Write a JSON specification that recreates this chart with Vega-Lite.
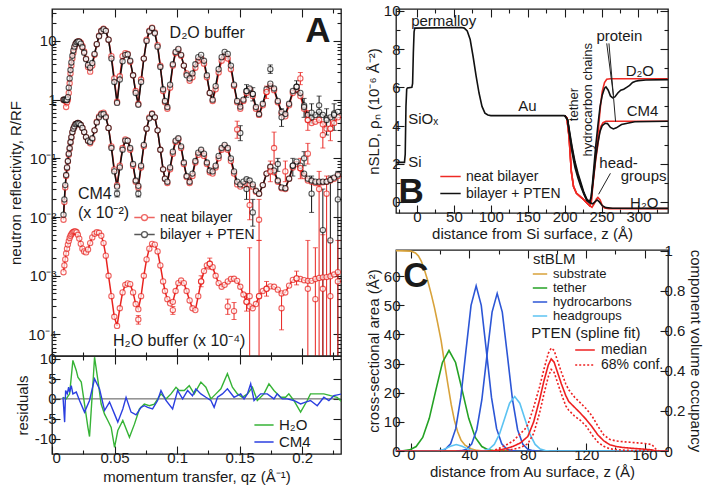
{
"$schema": "https://vega.github.io/schema/vega-lite/v6.json",
"padding": {"left": 8, "top": 3, "right": 0, "bottom": 0},
"config": {
 "font": "Liberation Sans",
 "view": {"stroke": "#1a1a1a", "strokeWidth": 1.3},
 "axis": {"domain": false, "grid": false, "labelFont": "Liberation Sans", "titleFont": "Liberation Sans", "labelFontSize": 15, "titleFontSize": 15, "titleFontWeight": "normal", "labelColor": "#1a1a1a", "titleColor": "#1a1a1a", "tickColor": "#1a1a1a", "tickWidth": 1.1, "labelPadding": 4},
 "legend": {"labelFont": "Liberation Sans", "titleFont": "Liberation Sans", "labelFontSize": 14, "titleFontSize": 15, "titleFontWeight": "normal", "labelColor": "#1a1a1a", "titleColor": "#1a1a1a", "padding": 0, "rowPadding": 0, "symbolStrokeWidth": 1.5, "labelOffset": 6},
 "text": {"font": "Liberation Sans", "color": "#1a1a1a"}
},
"datasets": {
 "nr": [
 {"q":0.0092,"dp":1.0,"dn":1.0,"cp":0.011,"cn":0.009,"h":0.00115},
 {"q":0.0099,"dp":1.0,"dn":0.98,"cp":0.02,"cn":0.018,"h":0.0015},
 {"q":0.0106,"dp":1.0,"dn":0.95,"cp":0.035,"cn":0.032,"h":0.0019},
 {"q":0.0113,"dp":0.98,"dn":0.75,"cp":0.052,"cn":0.05,"h":0.0024},
 {"q":0.012,"dp":1.0,"dn":0.9,"cp":0.07,"cn":0.068,"h":0.0029},
 {"q":0.0127,"dp":1.1,"dn":1.0,"cp":0.09,"cn":0.088,"h":0.0034},
 {"q":0.0134,"dp":1.6,"dn":1.3,"cp":0.12,"cn":0.115,"h":0.0039},
 {"q":0.0141,"dp":2.3,"dn":1.9,"cp":0.15,"cn":0.145,"h":0.0044},
 {"q":0.0148,"dp":3.2,"dn":2.8,"cp":0.19,"cn":0.185,"h":0.0048},
 {"q":0.0155,"dp":4.3,"dn":3.8,"cp":0.23,"cn":0.225,"h":0.0051},
 {"q":0.0163,"dp":5.6,"dn":5.0,"cp":0.28,"cn":0.275,"h":0.0054},
 {"q":0.0171,"dp":6.9,"dn":6.3,"cp":0.32,"cn":0.32,"h":0.0056},
 {"q":0.0179,"dp":8.0,"dn":7.6,"cp":0.35,"cn":0.35,"h":0.0057},
 {"q":0.0188,"dp":8.9,"dn":8.7,"cp":0.38,"cn":0.38,"h":0.0057},
 {"q":0.0197,"dp":9.5,"dn":9.4,"cp":0.39,"cn":0.39,"h":0.0055},
 {"q":0.0207,"dp":9.8,"dn":9.8,"cp":0.4,"cn":0.4,"h":0.005},
 {"q":0.0218,"dp":9.7,"dn":9.8,"cp":0.39,"cn":0.39,"h":0.0043},
 {"q":0.023,"dp":9.0,"dn":9.3,"cp":0.37,"cn":0.37,"h":0.0035},
 {"q":0.0243,"dp":7.8,"dn":8.2,"cp":0.33,"cn":0.33,"h":0.0029},
 {"q":0.0257,"dp":6.3,"dn":6.6,"cp":0.28,"cn":0.28,"h":0.0026},
 {"q":0.0272,"dp":4.9,"dn":5.0,"cp":0.23,"cn":0.23,"h":0.0025},
 {"q":0.0288,"dp":3.9,"dn":3.6,"cp":0.2,"cn":0.2,"h":0.0028},
 {"q":0.0305,"dp":3.5,"dn":3.0,"cp":0.19,"cn":0.18,"h":0.0036},
 {"q":0.0322,"dp":4.2,"dn":3.8,"cp":0.22,"cn":0.21,"h":0.0045},
 {"q":0.034,"dp":6.0,"dn":5.8,"cp":0.3,"cn":0.3,"h":0.0052},
 {"q":0.0358,"dp":8.8,"dn":8.8,"cp":0.41,"cn":0.42,"h":0.0055},
 {"q":0.0376,"dp":12.0,"dn":12.3,"cp":0.5,"cn":0.52,"h":0.0054},
 {"q":0.0394,"dp":14.6,"dn":15.0,"cp":0.56,"cn":0.58,"h":0.0048},
 {"q":0.0412,"dp":15.8,"dn":16.2,"cp":0.57,"cn":0.6,"h":0.0036},
 {"q":0.043,"dp":14.8,"dn":15.0,"cp":0.5,"cn":0.52,"h":0.0022},
 {"q":0.0452,"dp":10.5,"dn":10.5,"cp":0.33,"cn":0.33,"h":0.001},
 {"q":0.0475,"dp":5.0,"dn":5.5,"cp":0.15,"cn":0.16,"h":0.00045},
 {"q":0.0498,"dp":2.0,"dn":2.3,"cp":0.06,"cn":0.065,"h":0.0002},
 {"q":0.052,"dp":0.88,"dn":0.92,"cp":0.033,"cn":0.035,"h":0.00014},
 {"q":0.0542,"dp":2.2,"dn":2.5,"cp":0.07,"cn":0.075,"h":0.00028},
 {"q":0.0564,"dp":4.5,"dn":5.5,"cp":0.14,"cn":0.15,"h":0.00052},
 {"q":0.0586,"dp":5.8,"dn":6.2,"cp":0.2,"cn":0.21,"h":0.0007},
 {"q":0.0605,"dp":5.9,"dn":6.0,"cp":0.2,"cn":0.2,"h":0.00074},
 {"q":0.0625,"dp":4.6,"dn":4.4,"cp":0.15,"cn":0.14,"h":0.00072},
 {"q":0.0648,"dp":2.6,"dn":2.6,"cp":0.08,"cn":0.075,"h":0.00052},
 {"q":0.0669,"dp":1.3,"dn":1.4,"cp":0.042,"cn":0.04,"h":0.00033},
 {"q":0.069,"dp":0.82,"dn":0.85,"cp":0.034,"cn":0.032,"h":0.00027},
 {"q":0.0712,"dp":2.0,"dn":2.2,"cp":0.075,"cn":0.07,"h":0.00045},
 {"q":0.0734,"dp":5.0,"dn":5.0,"cp":0.17,"cn":0.16,"h":0.001},
 {"q":0.0756,"dp":10.0,"dn":10.5,"cp":0.32,"cn":0.32,"h":0.0019},
 {"q":0.0778,"dp":14.5,"dn":15.0,"cp":0.48,"cn":0.5,"h":0.0029},
 {"q":0.08,"dp":16.5,"dn":16.8,"cp":0.57,"cn":0.58,"h":0.0035},
 {"q":0.0822,"dp":13.5,"dn":14.0,"cp":0.5,"cn":0.5,"h":0.0034},
 {"q":0.0844,"dp":8.0,"dn":8.5,"cp":0.3,"cn":0.3,"h":0.0026},
 {"q":0.0866,"dp":3.6,"dn":3.8,"cp":0.14,"cn":0.14,"h":0.0015},
 {"q":0.0888,"dp":1.5,"dn":1.4,"cp":0.065,"cn":0.065,"h":0.0008},
 {"q":0.0903,"dp":0.95,"dn":0.9,"cp":0.045,"cn":0.045,"h":0.00055},
 {"q":0.0922,"dp":0.75,"dn":0.7,"cp":0.04,"cn":0.038,"h":0.0004},
 {"q":0.0944,"dp":1.8,"dn":1.6,"cp":0.07,"cn":0.065,"h":0.00034},
 {"q":0.0966,"dp":4.0,"dn":3.8,"cp":0.13,"cn":0.12,"h":0.00036},
 {"q":0.0988,"dp":6.5,"dn":6.2,"cp":0.2,"cn":0.19,"h":0.00055},
 {"q":0.101,"dp":7.3,"dn":7.0,"cp":0.22,"cn":0.21,"h":0.00075},
 {"q":0.1032,"dp":5.8,"dn":5.6,"cp":0.16,"cn":0.15,"h":0.00083},
 {"q":0.1054,"dp":3.8,"dn":3.8,"cp":0.085,"cn":0.08,"h":0.00075},
 {"q":0.1076,"dp":2.6,"dn":2.8,"cp":0.05,"cn":0.048,"h":0.00055},
 {"q":0.11,"dp":2.3,"dn":2.1,"cp":0.04,"cn":0.038,"h":0.00038},
 {"q":0.1123,"dp":2.8,"dn":2.4,"cp":0.055,"cn":0.05,"h":0.00028},
 {"q":0.1146,"dp":4.0,"dn":3.5,"cp":0.09,"cn":0.085,"h":0.00026},
 {"q":0.1169,"dp":5.3,"dn":4.6,"cp":0.125,"cn":0.115,"h":0.00045},
 {"q":0.1192,"dp":5.8,"dn":5.0,"cp":0.14,"cn":0.13,"h":0.0008},
 {"q":0.1215,"dp":4.6,"dn":4.1,"cp":0.12,"cn":0.11,"h":0.0012},
 {"q":0.1238,"dp":2.6,"dn":2.4,"cp":0.085,"cn":0.08,"h":0.0015},
 {"q":0.1261,"dp":1.3,"dn":1.3,"cp":0.062,"cn":0.058,"h":0.0016},
 {"q":0.1284,"dp":1.0,"dn":0.95,"cp":0.06,"cn":0.055,"h":0.0014},
 {"q":0.1308,"dp":1.7,"dn":1.5,"cp":0.075,"cn":0.07,"h":0.001},
 {"q":0.1332,"dp":3.3,"dn":2.9,"cp":0.11,"cn":0.1,"h":0.00075},
 {"q":0.1356,"dp":5.3,"dn":4.6,"cp":0.15,"cn":0.14,"h":0.00065},
 {"q":0.138,"dp":6.5,"dn":5.5,"cp":0.17,"cn":0.16,"h":0.0007},
 {"q":0.1405,"dp":6.0,"dn":5.0,"cp":0.15,"cn":0.14,"h":0.0008},
 {"q":0.143,"dp":3.8,"dn":3.3,"cp":0.1,"cn":0.09,"h":0.00088},
 {"q":0.1455,"dp":1.8,"dn":1.7,"cp":0.06,"cn":0.055,"h":0.00089},
 {"q":0.148,"dp":0.95,"dn":0.9,"cp":0.04,"cn":0.036,"h":0.00082},
 {"q":0.1505,"dp":0.76,"dn":0.7,"cp":0.036,"cn":0.033,"h":0.00065},
 {"q":0.153,"dp":1.0,"dn":0.95,"cp":0.04,"cn":0.035,"h":0.00048},
 {"q":0.1555,"dp":1.4,"dn":1.3,"cp":0.044,"cn":0.037,"h":0.00036},
 {"q":0.158,"dp":1.55,"dn":1.45,"cp":0.042,"cn":0.036,"h":0.0003},
 {"q":0.1605,"dp":1.25,"dn":1.15,"cp":0.036,"cn":0.033,"h":0.00028},
 {"q":0.163,"dp":0.75,"dn":0.7,"cp":0.028,"cn":0.027,"h":0.00033},
 {"q":0.1655,"dp":0.57,"dn":0.55,"cp":0.025,"cn":0.025,"h":0.00045},
 {"q":0.1685,"dp":0.85,"dn":0.8,"cp":0.035,"cn":0.035,"h":0.00055},
 {"q":0.1715,"dp":1.5,"dn":1.35,"cp":0.055,"cn":0.055,"h":0.0006},
 {"q":0.1745,"dp":1.87,"dn":1.7,"cp":0.072,"cn":0.07,"h":0.00066},
 {"q":0.1775,"dp":1.55,"dn":1.45,"cp":0.062,"cn":0.058,"h":0.00065},
 {"q":0.1805,"dp":0.95,"dn":0.9,"cp":0.042,"cn":0.04,"h":0.00058},
 {"q":0.1835,"dp":0.62,"dn":0.58,"cp":0.032,"cn":0.031,"h":0.0005},
 {"q":0.1865,"dp":0.57,"dn":0.52,"cp":0.031,"cn":0.03,"h":0.00052},
 {"q":0.1895,"dp":0.85,"dn":0.8,"cp":0.045,"cn":0.045,"h":0.00068},
 {"q":0.1925,"dp":1.4,"dn":1.3,"cp":0.075,"cn":0.07,"h":0.00085},
 {"q":0.1955,"dp":1.66,"dn":1.5,"cp":0.088,"cn":0.08,"h":0.0009},
 {"q":0.1985,"dp":1.3,"dn":1.15,"cp":0.075,"cn":0.068,"h":0.00088},
 {"q":0.2015,"dp":0.8,"dn":0.7,"cp":0.055,"cn":0.05,"h":0.00084},
 {"q":0.2045,"dp":0.55,"dn":0.45,"cp":0.045,"cn":0.042,"h":0.00082},
 {"q":0.2075,"dp":0.5,"dn":0.4,"cp":0.042,"cn":0.04,"h":0.00082},
 {"q":0.2105,"dp":0.55,"dn":0.42,"cp":0.04,"cn":0.038,"h":0.00088},
 {"q":0.2135,"dp":0.62,"dn":0.45,"cp":0.04,"cn":0.038,"h":0.00092},
 {"q":0.2165,"dp":0.55,"dn":0.38,"cp":0.04,"cn":0.039,"h":0.00094},
 {"q":0.2195,"dp":0.48,"dn":0.32,"cp":0.04,"cn":0.04,"h":0.00095},
 {"q":0.2225,"dp":0.5,"dn":0.32,"cp":0.043,"cn":0.042,"h":0.00098},
 {"q":0.2255,"dp":0.58,"dn":0.4,"cp":0.047,"cn":0.045,"h":0.00105},
 {"q":0.2285,"dp":0.62,"dn":0.5,"cp":0.053,"cn":0.05,"h":0.00115}
 ],
 "eb": [
 {"g":"bilayer + PTEN","q":0.1505,"r":0.27,"lo":0.2,"hi":0.36},
 {"g":"bilayer + PTEN","q":0.1745,"r":3.3,"lo":2.8,"hi":3.9},
 {"g":"bilayer + PTEN","q":0.1555,"r":1.4,"lo":1.1,"hi":1.8},
 {"g":"bilayer + PTEN","q":0.1605,"r":1.25,"lo":0.95,"hi":1.6},
 {"g":"bilayer + PTEN","q":0.1835,"r":0.5,"lo":0.35,"hi":0.7},
 {"g":"bilayer + PTEN","q":0.1955,"r":1.66,"lo":1.3,"hi":2.1},
 {"g":"bilayer + PTEN","q":0.2015,"r":0.75,"lo":0.5,"hi":1.05},
 {"g":"bilayer + PTEN","q":0.2075,"r":0.6,"lo":0.4,"hi":0.85},
 {"g":"bilayer + PTEN","q":0.2135,"r":0.8,"lo":0.5,"hi":1.15},
 {"g":"bilayer + PTEN","q":0.2195,"r":0.45,"lo":0.25,"hi":0.7},
 {"g":"bilayer + PTEN","q":0.2255,"r":0.55,"lo":0.3,"hi":0.85},
 {"g":"neat bilayer","q":0.148,"r":0.31,"lo":0.22,"hi":0.43},
 {"g":"neat bilayer","q":0.1985,"r":2.3,"lo":1.8,"hi":2.9},
 {"g":"neat bilayer","q":0.1775,"r":0.15,"lo":0.08,"hi":0.28},
 {"g":"neat bilayer","q":0.2165,"r":0.25,"lo":0.15,"hi":0.4},
 {"g":"neat bilayer","q":0.1715,"r":1.35,"lo":1.05,"hi":1.7},
 {"g":"neat bilayer","q":0.2045,"r":0.45,"lo":0.3,"hi":0.65},
 {"g":"neat bilayer","q":0.2225,"r":0.32,"lo":0.2,"hi":0.5},
 {"g":"bilayer + PTEN","q":0.052,"r":0.025,"lo":0.022,"hi":0.028},
 {"g":"bilayer + PTEN","q":0.069,"r":0.025,"lo":0.022,"hi":0.028},
 {"g":"bilayer + PTEN","q":0.1555,"r":0.03,"lo":0.02,"hi":0.045},
 {"g":"bilayer + PTEN","q":0.1605,"r":0.012,"lo":0.007,"hi":0.02},
 {"g":"bilayer + PTEN","q":0.1805,"r":0.08,"lo":0.06,"hi":0.1},
 {"g":"bilayer + PTEN","q":0.2015,"r":0.1,"lo":0.075,"hi":0.13},
 {"g":"bilayer + PTEN","q":0.2075,"r":0.025,"lo":0.012,"hi":0.05},
 {"g":"bilayer + PTEN","q":0.2165,"r":0.006,"lo":0.00002,"hi":0.03},
 {"g":"bilayer + PTEN","q":0.2225,"r":0.004,"lo":0.00002,"hi":0.05},
 {"g":"bilayer + PTEN","q":0.2285,"r":0.02,"lo":0.00002,"hi":0.06},
 {"g":"bilayer + PTEN","q":0.1925,"r":0.075,"lo":0.05,"hi":0.1},
 {"g":"neat bilayer","q":0.158,"r":0.016,"lo":0.009,"hi":0.03},
 {"g":"neat bilayer","q":0.1655,"r":0.009,"lo":0.004,"hi":0.02},
 {"g":"neat bilayer","q":0.1745,"r":0.06,"lo":0.04,"hi":0.09},
 {"g":"neat bilayer","q":0.1865,"r":0.06,"lo":0.04,"hi":0.09},
 {"g":"neat bilayer","q":0.2045,"r":0.12,"lo":0.08,"hi":0.18},
 {"g":"neat bilayer","q":0.2135,"r":0.03,"lo":0.00002,"hi":0.06},
 {"g":"neat bilayer","q":0.2195,"r":0.025,"lo":0.00002,"hi":0.05},
 {"g":"neat bilayer","q":0.1985,"r":0.068,"lo":0.045,"hi":0.1},
 {"g":"neat bilayer","q":0.069,"r":0.00018,"lo":0.00015,"hi":0.00021},
 {"g":"neat bilayer","q":0.0966,"r":0.00026,"lo":0.00022,"hi":0.0003},
 {"g":"neat bilayer","q":0.1405,"r":0.0003,"lo":0.00022,"hi":0.0004},
 {"g":"neat bilayer","q":0.1455,"r":0.00025,"lo":0.00018,"hi":0.00035},
 {"g":"neat bilayer","q":0.1555,"r":0.00036,"lo":0.00025,"hi":0.0005},
 {"g":"neat bilayer","q":0.158,"r":0.00045,"lo":0.00002,"hi":0.003},
 {"g":"neat bilayer","q":0.1655,"r":0.00045,"lo":0.00002,"hi":0.004},
 {"g":"neat bilayer","q":0.1835,"r":0.00028,"lo":0.00012,"hi":0.0005},
 {"g":"neat bilayer","q":0.2045,"r":0.0006,"lo":0.00002,"hi":0.004},
 {"g":"neat bilayer","q":0.2105,"r":0.0004,"lo":0.00002,"hi":0.003},
 {"g":"neat bilayer","q":0.2165,"r":0.0006,"lo":0.00002,"hi":0.005},
 {"g":"neat bilayer","q":0.2225,"r":0.00045,"lo":0.00002,"hi":0.004},
 {"g":"neat bilayer","q":0.2285,"r":0.0008,"lo":0.00002,"hi":0.004},
 {"g":"neat bilayer","q":0.1715,"r":0.0006,"lo":0.00045,"hi":0.0008},
 {"g":"neat bilayer","q":0.1955,"r":0.0009,"lo":0.0007,"hi":0.0012},
 {"g":"neat bilayer","q":0.1261,"r":0.0016,"lo":0.0013,"hi":0.002},
 {"g":"neat bilayer","q":0.1192,"r":0.0008,"lo":0.00065,"hi":0.001}
 ],
 "res": [
 {"s":"H₂O","q":0.0088,"r":0.4},{"s":"H₂O","q":0.0114,"r":0.0},{"s":"H₂O","q":0.0141,"r":1.25},{"s":"H₂O","q":0.0167,"r":9.6},{"s":"H₂O","q":0.0194,"r":7.1},{"s":"H₂O","q":0.0207,"r":5.4},{"s":"H₂O","q":0.0234,"r":4.2},{"s":"H₂O","q":0.026,"r":-1.3},{"s":"H₂O","q":0.0287,"r":-7.1},{"s":"H₂O","q":0.03,"r":-9.4},{"s":"H₂O","q":0.0327,"r":3.7},{"s":"H₂O","q":0.034,"r":10.4},{"s":"H₂O","q":0.0367,"r":4.6},{"s":"H₂O","q":0.0393,"r":-1.3},{"s":"H₂O","q":0.042,"r":-3.8},{"s":"H₂O","q":0.0446,"r":-5.4},{"s":"H₂O","q":0.0473,"r":-7.1},{"s":"H₂O","q":0.05,"r":-12.1},{"s":"H₂O","q":0.0526,"r":-7.9},{"s":"H₂O","q":0.0566,"r":-5.4},{"s":"H₂O","q":0.0619,"r":-9.6},{"s":"H₂O","q":0.0659,"r":-6.3},{"s":"H₂O","q":0.0699,"r":-2.5},{"s":"H₂O","q":0.0738,"r":-1.3},{"s":"H₂O","q":0.0778,"r":-1.7},{"s":"H₂O","q":0.0818,"r":-1.3},{"s":"H₂O","q":0.0871,"r":1.25},{"s":"H₂O","q":0.0911,"r":0},{"s":"H₂O","q":0.0951,"r":1.25},{"s":"H₂O","q":0.0991,"r":2.9},{"s":"H₂O","q":0.1017,"r":2.1},{"s":"H₂O","q":0.1057,"r":2.1},{"s":"H₂O","q":0.1097,"r":3.3},{"s":"H₂O","q":0.1137,"r":1.25},{"s":"H₂O","q":0.119,"r":4.2},{"s":"H₂O","q":0.123,"r":2.9},{"s":"H₂O","q":0.127,"r":0},{"s":"H₂O","q":0.131,"r":1.25},{"s":"H₂O","q":0.135,"r":2.5},{"s":"H₂O","q":0.1402,"r":6.3},{"s":"H₂O","q":0.1442,"r":2.9},{"s":"H₂O","q":0.1482,"r":1.25},{"s":"H₂O","q":0.1522,"r":0.4},{"s":"H₂O","q":0.1562,"r":1.25},{"s":"H₂O","q":0.1602,"r":2.9},{"s":"H₂O","q":0.1641,"r":-0.4},{"s":"H₂O","q":0.1694,"r":1.25},{"s":"H₂O","q":0.1734,"r":3.75},{"s":"H₂O","q":0.1774,"r":2.1},{"s":"H₂O","q":0.1827,"r":0.4},{"s":"H₂O","q":0.1867,"r":0.4},{"s":"H₂O","q":0.1893,"r":1.25},{"s":"H₂O","q":0.1933,"r":-0.4},{"s":"H₂O","q":0.1987,"r":-3.3},{"s":"H₂O","q":0.204,"r":-0.4},{"s":"H₂O","q":0.2066,"r":1.25},{"s":"H₂O","q":0.212,"r":1.25},{"s":"H₂O","q":0.2173,"r":1.25},{"s":"H₂O","q":0.2226,"r":0.8},{"s":"H₂O","q":0.2279,"r":0.4},{"s":"H₂O","q":0.2319,"r":-0.8},
 {"s":"CM4","q":0.0088,"r":0.4},{"s":"CM4","q":0.0101,"r":-5.8},{"s":"CM4","q":0.0109,"r":2.1},{"s":"CM4","q":0.0122,"r":1.25},{"s":"CM4","q":0.0133,"r":2.9},{"s":"CM4","q":0.0141,"r":1.7},{"s":"CM4","q":0.0154,"r":3.3},{"s":"CM4","q":0.0167,"r":1.25},{"s":"CM4","q":0.0194,"r":1.7},{"s":"CM4","q":0.022,"r":-0.4},{"s":"CM4","q":0.026,"r":-3.3},{"s":"CM4","q":0.03,"r":-0.4},{"s":"CM4","q":0.034,"r":5.0},{"s":"CM4","q":0.038,"r":2.5},{"s":"CM4","q":0.042,"r":-2.9},{"s":"CM4","q":0.046,"r":-0.8},{"s":"CM4","q":0.05,"r":-3.8},{"s":"CM4","q":0.0526,"r":-5.8},{"s":"CM4","q":0.0566,"r":-2.5},{"s":"CM4","q":0.0592,"r":0.4},{"s":"CM4","q":0.0632,"r":-3.3},{"s":"CM4","q":0.0672,"r":-4.0},{"s":"CM4","q":0.0712,"r":-2.1},{"s":"CM4","q":0.0738,"r":-1.7},{"s":"CM4","q":0.0765,"r":-2.1},{"s":"CM4","q":0.0804,"r":-2.5},{"s":"CM4","q":0.0844,"r":-0.4},{"s":"CM4","q":0.0871,"r":2.1},{"s":"CM4","q":0.0911,"r":-0.4},{"s":"CM4","q":0.0964,"r":-2.5},{"s":"CM4","q":0.1004,"r":2.1},{"s":"CM4","q":0.1044,"r":0},{"s":"CM4","q":0.1084,"r":2.1},{"s":"CM4","q":0.1123,"r":0.8},{"s":"CM4","q":0.115,"r":2.5},{"s":"CM4","q":0.119,"r":1.25},{"s":"CM4","q":0.123,"r":0.4},{"s":"CM4","q":0.127,"r":-0.4},{"s":"CM4","q":0.1296,"r":-2.1},{"s":"CM4","q":0.1323,"r":0.4},{"s":"CM4","q":0.1362,"r":1.25},{"s":"CM4","q":0.1402,"r":2.5},{"s":"CM4","q":0.1455,"r":0.4},{"s":"CM4","q":0.1508,"r":1.25},{"s":"CM4","q":0.1535,"r":0},{"s":"CM4","q":0.1562,"r":1.25},{"s":"CM4","q":0.1588,"r":3.75},{"s":"CM4","q":0.1615,"r":-0.4},{"s":"CM4","q":0.1668,"r":1.25},{"s":"CM4","q":0.1721,"r":1.25},{"s":"CM4","q":0.1774,"r":0},{"s":"CM4","q":0.18,"r":1.25},{"s":"CM4","q":0.184,"r":0},{"s":"CM4","q":0.188,"r":0},{"s":"CM4","q":0.1933,"r":-0.4},{"s":"CM4","q":0.1987,"r":-1.25},{"s":"CM4","q":0.2027,"r":-0.8},{"s":"CM4","q":0.2066,"r":-0.4},{"s":"CM4","q":0.212,"r":-1.7},{"s":"CM4","q":0.2173,"r":0.4},{"s":"CM4","q":0.2213,"r":-0.4},{"s":"CM4","q":0.2253,"r":0.8},{"s":"CM4","q":0.2319,"r":1.25}
 ],
 "sld": [
 {"g":"bilayer + PTEN","c":"sub","z":-28.5,"v":2.07},{"g":"bilayer + PTEN","c":"sub","z":-17,"v":2.07},{"g":"bilayer + PTEN","c":"sub","z":-16,"v":2.5},{"g":"bilayer + PTEN","c":"sub","z":-15,"v":5.0},{"g":"bilayer + PTEN","c":"sub","z":-14,"v":5.9},{"g":"bilayer + PTEN","c":"sub","z":-13,"v":5.97},{"g":"bilayer + PTEN","c":"sub","z":-7,"v":6.0},{"g":"bilayer + PTEN","c":"sub","z":-6,"v":6.2},{"g":"bilayer + PTEN","c":"sub","z":-5,"v":7.8},{"g":"bilayer + PTEN","c":"sub","z":-4,"v":8.9},{"g":"bilayer + PTEN","c":"sub","z":-3,"v":9.1},{"g":"bilayer + PTEN","c":"sub","z":60,"v":9.13},{"g":"bilayer + PTEN","c":"sub","z":64,"v":9.1},{"g":"bilayer + PTEN","c":"sub","z":68,"v":8.95},{"g":"bilayer + PTEN","c":"sub","z":72,"v":8.5},{"g":"bilayer + PTEN","c":"sub","z":76,"v":7.6},{"g":"bilayer + PTEN","c":"sub","z":80,"v":6.6},{"g":"bilayer + PTEN","c":"sub","z":84,"v":5.7},{"g":"bilayer + PTEN","c":"sub","z":88,"v":5.0},{"g":"bilayer + PTEN","c":"sub","z":92,"v":4.65},{"g":"bilayer + PTEN","c":"sub","z":96,"v":4.55},{"g":"bilayer + PTEN","c":"sub","z":100,"v":4.52},{"g":"bilayer + PTEN","c":"sub","z":200,"v":4.52},
 {"g":"neat bilayer","c":"H","z":200,"v":4.52},{"g":"neat bilayer","c":"H","z":203,"v":4.4},{"g":"neat bilayer","c":"H","z":206,"v":3.4},{"g":"neat bilayer","c":"H","z":209,"v":1.6},{"g":"neat bilayer","c":"H","z":212,"v":0.8},{"g":"neat bilayer","c":"H","z":216,"v":0.45},{"g":"neat bilayer","c":"H","z":220,"v":0.32},{"g":"neat bilayer","c":"H","z":225,"v":0.15},{"g":"neat bilayer","c":"H","z":230,"v":-0.05},{"g":"neat bilayer","c":"H","z":234,"v":-0.2},{"g":"neat bilayer","c":"H","z":237,"v":-0.28},{"g":"neat bilayer","c":"H","z":240,"v":-0.1},{"g":"neat bilayer","c":"H","z":243,"v":0.15},{"g":"neat bilayer","c":"H","z":245,"v":0.23},{"g":"neat bilayer","c":"H","z":248,"v":0.1},{"g":"neat bilayer","c":"H","z":251,"v":-0.2},{"g":"neat bilayer","c":"H","z":254,"v":-0.32},{"g":"neat bilayer","c":"H","z":260,"v":-0.35},{"g":"neat bilayer","c":"H","z":340,"v":-0.35},
 {"g":"neat bilayer","c":"D","z":200,"v":4.52},{"g":"neat bilayer","c":"D","z":203,"v":4.4},{"g":"neat bilayer","c":"D","z":206,"v":3.4},{"g":"neat bilayer","c":"D","z":209,"v":1.6},{"g":"neat bilayer","c":"D","z":212,"v":0.8},{"g":"neat bilayer","c":"D","z":216,"v":0.45},{"g":"neat bilayer","c":"D","z":220,"v":0.32},{"g":"neat bilayer","c":"D","z":225,"v":0.15},{"g":"neat bilayer","c":"D","z":230,"v":-0.05},{"g":"neat bilayer","c":"D","z":234,"v":-0.2},{"g":"neat bilayer","c":"D","z":236,"v":0.0},{"g":"neat bilayer","c":"D","z":238,"v":0.9},{"g":"neat bilayer","c":"D","z":240,"v":1.7},{"g":"neat bilayer","c":"D","z":242,"v":2.5},{"g":"neat bilayer","c":"D","z":245,"v":3.5},{"g":"neat bilayer","c":"D","z":247,"v":4.4},{"g":"neat bilayer","c":"D","z":249,"v":5.2},{"g":"neat bilayer","c":"D","z":251,"v":5.8},{"g":"neat bilayer","c":"D","z":254,"v":6.25},{"g":"neat bilayer","c":"D","z":257,"v":6.42},{"g":"neat bilayer","c":"D","z":262,"v":6.45},{"g":"neat bilayer","c":"D","z":340,"v":6.45},
 {"g":"neat bilayer","c":"C","z":200,"v":4.52},{"g":"neat bilayer","c":"C","z":203,"v":4.4},{"g":"neat bilayer","c":"C","z":206,"v":3.4},{"g":"neat bilayer","c":"C","z":209,"v":1.6},{"g":"neat bilayer","c":"C","z":212,"v":0.8},{"g":"neat bilayer","c":"C","z":216,"v":0.45},{"g":"neat bilayer","c":"C","z":220,"v":0.32},{"g":"neat bilayer","c":"C","z":225,"v":0.15},{"g":"neat bilayer","c":"C","z":230,"v":-0.05},{"g":"neat bilayer","c":"C","z":234,"v":-0.2},{"g":"neat bilayer","c":"C","z":236,"v":-0.05},{"g":"neat bilayer","c":"C","z":238,"v":0.8},{"g":"neat bilayer","c":"C","z":240,"v":1.5},{"g":"neat bilayer","c":"C","z":242,"v":2.2},{"g":"neat bilayer","c":"C","z":245,"v":3.0},{"g":"neat bilayer","c":"C","z":247,"v":3.6},{"g":"neat bilayer","c":"C","z":249,"v":3.95},{"g":"neat bilayer","c":"C","z":252,"v":4.15},{"g":"neat bilayer","c":"C","z":256,"v":4.22},{"g":"neat bilayer","c":"C","z":340,"v":4.22},
 {"g":"bilayer + PTEN","c":"D","z":200,"v":4.52},{"g":"bilayer + PTEN","c":"D","z":204,"v":4.3},{"g":"bilayer + PTEN","c":"D","z":207,"v":3.6},{"g":"bilayer + PTEN","c":"D","z":210,"v":2.9},{"g":"bilayer + PTEN","c":"D","z":214,"v":2.1},{"g":"bilayer + PTEN","c":"D","z":218,"v":1.5},{"g":"bilayer + PTEN","c":"D","z":222,"v":1.0},{"g":"bilayer + PTEN","c":"D","z":226,"v":0.5},{"g":"bilayer + PTEN","c":"D","z":230,"v":0.15},{"g":"bilayer + PTEN","c":"D","z":234,"v":0.0},{"g":"bilayer + PTEN","c":"D","z":236,"v":0.3},{"g":"bilayer + PTEN","c":"D","z":238,"v":1.1},{"g":"bilayer + PTEN","c":"D","z":240,"v":2.0},{"g":"bilayer + PTEN","c":"D","z":242,"v":2.9},{"g":"bilayer + PTEN","c":"D","z":245,"v":4.0},{"g":"bilayer + PTEN","c":"D","z":248,"v":5.0},{"g":"bilayer + PTEN","c":"D","z":251,"v":5.6},{"g":"bilayer + PTEN","c":"D","z":254,"v":5.95},{"g":"bilayer + PTEN","c":"D","z":256,"v":6.02},{"g":"bilayer + PTEN","c":"D","z":259,"v":5.85},{"g":"bilayer + PTEN","c":"D","z":262,"v":5.55},{"g":"bilayer + PTEN","c":"D","z":265,"v":5.45},{"g":"bilayer + PTEN","c":"D","z":268,"v":5.5},{"g":"bilayer + PTEN","c":"D","z":272,"v":5.7},{"g":"bilayer + PTEN","c":"D","z":276,"v":5.85},{"g":"bilayer + PTEN","c":"D","z":280,"v":5.9},{"g":"bilayer + PTEN","c":"D","z":284,"v":6.0},{"g":"bilayer + PTEN","c":"D","z":288,"v":6.1},{"g":"bilayer + PTEN","c":"D","z":292,"v":6.25},{"g":"bilayer + PTEN","c":"D","z":296,"v":6.32},{"g":"bilayer + PTEN","c":"D","z":300,"v":6.35},{"g":"bilayer + PTEN","c":"D","z":310,"v":6.38},{"g":"bilayer + PTEN","c":"D","z":340,"v":6.4},
 {"g":"bilayer + PTEN","c":"C","z":200,"v":4.52},{"g":"bilayer + PTEN","c":"C","z":204,"v":4.3},{"g":"bilayer + PTEN","c":"C","z":207,"v":3.5},{"g":"bilayer + PTEN","c":"C","z":210,"v":2.8},{"g":"bilayer + PTEN","c":"C","z":214,"v":1.95},{"g":"bilayer + PTEN","c":"C","z":218,"v":1.4},{"g":"bilayer + PTEN","c":"C","z":222,"v":0.9},{"g":"bilayer + PTEN","c":"C","z":226,"v":0.45},{"g":"bilayer + PTEN","c":"C","z":230,"v":0.1},{"g":"bilayer + PTEN","c":"C","z":234,"v":-0.03},{"g":"bilayer + PTEN","c":"C","z":236,"v":0.25},{"g":"bilayer + PTEN","c":"C","z":238,"v":0.9},{"g":"bilayer + PTEN","c":"C","z":240,"v":1.6},{"g":"bilayer + PTEN","c":"C","z":242,"v":2.3},{"g":"bilayer + PTEN","c":"C","z":245,"v":3.1},{"g":"bilayer + PTEN","c":"C","z":248,"v":3.7},{"g":"bilayer + PTEN","c":"C","z":251,"v":4.0},{"g":"bilayer + PTEN","c":"C","z":255,"v":4.12},{"g":"bilayer + PTEN","c":"C","z":258,"v":4.1},{"g":"bilayer + PTEN","c":"C","z":262,"v":3.9},{"g":"bilayer + PTEN","c":"C","z":266,"v":3.82},{"g":"bilayer + PTEN","c":"C","z":270,"v":3.88},{"g":"bilayer + PTEN","c":"C","z":277,"v":4.05},{"g":"bilayer + PTEN","c":"C","z":285,"v":4.12},{"g":"bilayer + PTEN","c":"C","z":295,"v":4.2},{"g":"bilayer + PTEN","c":"C","z":340,"v":4.22},
 {"g":"bilayer + PTEN","c":"H","z":200,"v":4.52},{"g":"bilayer + PTEN","c":"H","z":204,"v":4.3},{"g":"bilayer + PTEN","c":"H","z":207,"v":3.4},{"g":"bilayer + PTEN","c":"H","z":210,"v":2.6},{"g":"bilayer + PTEN","c":"H","z":214,"v":1.8},{"g":"bilayer + PTEN","c":"H","z":218,"v":1.25},{"g":"bilayer + PTEN","c":"H","z":222,"v":0.8},{"g":"bilayer + PTEN","c":"H","z":226,"v":0.4},{"g":"bilayer + PTEN","c":"H","z":230,"v":0.08},{"g":"bilayer + PTEN","c":"H","z":234,"v":-0.05},{"g":"bilayer + PTEN","c":"H","z":238,"v":-0.1},{"g":"bilayer + PTEN","c":"H","z":241,"v":0.0},{"g":"bilayer + PTEN","c":"H","z":244,"v":0.1},{"g":"bilayer + PTEN","c":"H","z":247,"v":0.0},{"g":"bilayer + PTEN","c":"H","z":251,"v":-0.2},{"g":"bilayer + PTEN","c":"H","z":256,"v":-0.3},{"g":"bilayer + PTEN","c":"H","z":265,"v":-0.33},{"g":"bilayer + PTEN","c":"H","z":340,"v":-0.34}
 ],
 "blm": [
 {"comp":"substrate","part":"s","z":-10.3,"a":68.8},{"comp":"substrate","part":"s","z":0,"a":68.6},{"comp":"substrate","part":"s","z":3,"a":68.0},{"comp":"substrate","part":"s","z":5,"a":67.0},{"comp":"substrate","part":"s","z":7,"a":65.2},{"comp":"substrate","part":"s","z":9,"a":62.5},{"comp":"substrate","part":"s","z":11.4,"a":58.5},{"comp":"substrate","part":"s","z":14,"a":53.5},{"comp":"substrate","part":"s","z":16,"a":49.3},{"comp":"substrate","part":"s","z":18,"a":44.5},{"comp":"substrate","part":"s","z":20.6,"a":37.9},{"comp":"substrate","part":"s","z":23,"a":30},{"comp":"substrate","part":"s","z":25.2,"a":23},{"comp":"substrate","part":"s","z":27.5,"a":16},{"comp":"substrate","part":"s","z":29.7,"a":10.5},{"comp":"substrate","part":"s","z":32,"a":6.5},{"comp":"substrate","part":"s","z":34.3,"a":3.7},{"comp":"substrate","part":"s","z":37,"a":2},{"comp":"substrate","part":"s","z":41,"a":0.8},{"comp":"substrate","part":"s","z":45,"a":0.2},{"comp":"substrate","part":"s","z":50,"a":0},{"comp":"substrate","part":"s","z":176,"a":0},
 {"comp":"tether","part":"t","z":-10.3,"a":0},{"comp":"tether","part":"t","z":-5.5,"a":0.08},{"comp":"tether","part":"t","z":-1,"a":0.38},{"comp":"tether","part":"t","z":3.5,"a":1.52},{"comp":"tether","part":"t","z":8,"a":4.67},{"comp":"tether","part":"t","z":12.5,"a":11.2},{"comp":"tether","part":"t","z":17,"a":20.9},{"comp":"tether","part":"t","z":21.5,"a":30.4},{"comp":"tether","part":"t","z":26,"a":34.5},{"comp":"tether","part":"t","z":30.5,"a":30.4},{"comp":"tether","part":"t","z":35,"a":20.9},{"comp":"tether","part":"t","z":39.5,"a":11.2},{"comp":"tether","part":"t","z":44,"a":4.67},{"comp":"tether","part":"t","z":48.5,"a":1.52},{"comp":"tether","part":"t","z":53,"a":0.38},{"comp":"tether","part":"t","z":57.5,"a":0.08},{"comp":"tether","part":"t","z":62,"a":0},{"comp":"tether","part":"t","z":176,"a":0},
 {"comp":"hydrocarbons","part":"h1","z":-10.3,"a":0},{"comp":"hydrocarbons","part":"h1","z":16.6,"a":0},{"comp":"hydrocarbons","part":"h1","z":20.1,"a":0.12},{"comp":"hydrocarbons","part":"h1","z":23.6,"a":0.63},{"comp":"hydrocarbons","part":"h1","z":27.1,"a":2.49},{"comp":"hydrocarbons","part":"h1","z":30.6,"a":7.67},{"comp":"hydrocarbons","part":"h1","z":34.1,"a":18.4},{"comp":"hydrocarbons","part":"h1","z":37.6,"a":34.4},{"comp":"hydrocarbons","part":"h1","z":41.1,"a":50.0},{"comp":"hydrocarbons","part":"h1","z":44.6,"a":56.7},{"comp":"hydrocarbons","part":"h1","z":48.1,"a":50.0},{"comp":"hydrocarbons","part":"h1","z":51.6,"a":34.4},{"comp":"hydrocarbons","part":"h1","z":55.1,"a":18.4},{"comp":"hydrocarbons","part":"h1","z":58.6,"a":7.67},{"comp":"hydrocarbons","part":"h1","z":62.1,"a":2.49},{"comp":"hydrocarbons","part":"h1","z":65.6,"a":0.63},{"comp":"hydrocarbons","part":"h1","z":69.1,"a":0.12},{"comp":"hydrocarbons","part":"h1","z":72.6,"a":0},{"comp":"hydrocarbons","part":"h1","z":176,"a":0},
 {"comp":"hydrocarbons","part":"h2","z":31,"a":0},{"comp":"hydrocarbons","part":"h2","z":34.5,"a":0.12},{"comp":"hydrocarbons","part":"h2","z":38,"a":0.6},{"comp":"hydrocarbons","part":"h2","z":41.5,"a":2.38},{"comp":"hydrocarbons","part":"h2","z":45,"a":7.32},{"comp":"hydrocarbons","part":"h2","z":48.5,"a":17.6},{"comp":"hydrocarbons","part":"h2","z":52,"a":32.8},{"comp":"hydrocarbons","part":"h2","z":55.5,"a":47.7},{"comp":"hydrocarbons","part":"h2","z":59,"a":54.1},{"comp":"hydrocarbons","part":"h2","z":62.5,"a":47.7},{"comp":"hydrocarbons","part":"h2","z":66,"a":32.8},{"comp":"hydrocarbons","part":"h2","z":69.5,"a":17.6},{"comp":"hydrocarbons","part":"h2","z":73,"a":7.32},{"comp":"hydrocarbons","part":"h2","z":76.5,"a":2.38},{"comp":"hydrocarbons","part":"h2","z":80,"a":0.6},{"comp":"hydrocarbons","part":"h2","z":83.5,"a":0.12},{"comp":"hydrocarbons","part":"h2","z":87,"a":0},
 {"comp":"headgroups","part":"g1","z":-10.3,"a":0},{"comp":"headgroups","part":"g1","z":18,"a":0},{"comp":"headgroups","part":"g1","z":21,"a":0.3},{"comp":"headgroups","part":"g1","z":24,"a":0.9},{"comp":"headgroups","part":"g1","z":27,"a":1.6},{"comp":"headgroups","part":"g1","z":31,"a":2.2},{"comp":"headgroups","part":"g1","z":35,"a":1.6},{"comp":"headgroups","part":"g1","z":38,"a":0.9},{"comp":"headgroups","part":"g1","z":41,"a":0.3},{"comp":"headgroups","part":"g1","z":44,"a":0},
 {"comp":"headgroups","part":"g2","z":46.5,"a":0},{"comp":"headgroups","part":"g2","z":50,"a":0.16},{"comp":"headgroups","part":"g2","z":53.5,"a":0.69},{"comp":"headgroups","part":"g2","z":57,"a":2.25},{"comp":"headgroups","part":"g2","z":60.5,"a":5.7},{"comp":"headgroups","part":"g2","z":64,"a":11.0},{"comp":"headgroups","part":"g2","z":67.5,"a":16.4},{"comp":"headgroups","part":"g2","z":71,"a":18.7},{"comp":"headgroups","part":"g2","z":74.5,"a":16.4},{"comp":"headgroups","part":"g2","z":78,"a":11.0},{"comp":"headgroups","part":"g2","z":81.5,"a":5.7},{"comp":"headgroups","part":"g2","z":85,"a":2.25},{"comp":"headgroups","part":"g2","z":88.5,"a":0.69},{"comp":"headgroups","part":"g2","z":92,"a":0.16},{"comp":"headgroups","part":"g2","z":95.5,"a":0},{"comp":"headgroups","part":"g2","z":176,"a":0}
 ],
 "pten": [
 {"stat":"median","part":"m","z":-10.3,"a":0},{"stat":"median","part":"m","z":55,"a":0},{"stat":"median","part":"m","z":60,"a":0.3},{"stat":"median","part":"m","z":65,"a":0.8},{"stat":"median","part":"m","z":70,"a":1.6},{"stat":"median","part":"m","z":75,"a":2.8},{"stat":"median","part":"m","z":80,"a":5.0},{"stat":"median","part":"m","z":84,"a":10},{"stat":"median","part":"m","z":88,"a":17.5},{"stat":"median","part":"m","z":91,"a":24},{"stat":"median","part":"m","z":94,"a":29.5},{"stat":"median","part":"m","z":96,"a":31.6},{"stat":"median","part":"m","z":98,"a":30.5},{"stat":"median","part":"m","z":100,"a":27.5},{"stat":"median","part":"m","z":103,"a":23},{"stat":"median","part":"m","z":106,"a":19},{"stat":"median","part":"m","z":108,"a":17},{"stat":"median","part":"m","z":112,"a":15},{"stat":"median","part":"m","z":116,"a":13},{"stat":"median","part":"m","z":120,"a":10.8},{"stat":"median","part":"m","z":124,"a":8.3},{"stat":"median","part":"m","z":128,"a":5.5},{"stat":"median","part":"m","z":132,"a":3.5},{"stat":"median","part":"m","z":136,"a":2.2},{"stat":"median","part":"m","z":140,"a":1.6},{"stat":"median","part":"m","z":145,"a":1.2},{"stat":"median","part":"m","z":150,"a":1.0},{"stat":"median","part":"m","z":155,"a":0.8},{"stat":"median","part":"m","z":160,"a":0.6},{"stat":"median","part":"m","z":165,"a":0.4},{"stat":"median","part":"m","z":168,"a":0},{"stat":"median","part":"m","z":176,"a":0},
 {"stat":"68% conf.","part":"u","z":55,"a":0},{"stat":"68% conf.","part":"u","z":60,"a":0.8},{"stat":"68% conf.","part":"u","z":65,"a":2},{"stat":"68% conf.","part":"u","z":70,"a":3.5},{"stat":"68% conf.","part":"u","z":75,"a":6},{"stat":"68% conf.","part":"u","z":78,"a":7.5},{"stat":"68% conf.","part":"u","z":80,"a":9},{"stat":"68% conf.","part":"u","z":84,"a":15},{"stat":"68% conf.","part":"u","z":88,"a":22},{"stat":"68% conf.","part":"u","z":91,"a":28},{"stat":"68% conf.","part":"u","z":94,"a":33.5},{"stat":"68% conf.","part":"u","z":96,"a":35.3},{"stat":"68% conf.","part":"u","z":98,"a":34.5},{"stat":"68% conf.","part":"u","z":100,"a":31.5},{"stat":"68% conf.","part":"u","z":103,"a":27},{"stat":"68% conf.","part":"u","z":106,"a":23},{"stat":"68% conf.","part":"u","z":108,"a":21},{"stat":"68% conf.","part":"u","z":112,"a":18.5},{"stat":"68% conf.","part":"u","z":116,"a":16.5},{"stat":"68% conf.","part":"u","z":120,"a":14.5},{"stat":"68% conf.","part":"u","z":124,"a":12},{"stat":"68% conf.","part":"u","z":128,"a":8.5},{"stat":"68% conf.","part":"u","z":132,"a":5.5},{"stat":"68% conf.","part":"u","z":136,"a":4},{"stat":"68% conf.","part":"u","z":140,"a":3.5},{"stat":"68% conf.","part":"u","z":145,"a":3.2},{"stat":"68% conf.","part":"u","z":150,"a":3.0},{"stat":"68% conf.","part":"u","z":155,"a":2.8},{"stat":"68% conf.","part":"u","z":160,"a":2.6},{"stat":"68% conf.","part":"u","z":165,"a":2.2},{"stat":"68% conf.","part":"u","z":168,"a":0.5},{"stat":"68% conf.","part":"u","z":170,"a":0},
 {"stat":"68% conf.","part":"l","z":60,"a":0},{"stat":"68% conf.","part":"l","z":65,"a":0.2},{"stat":"68% conf.","part":"l","z":70,"a":0.6},{"stat":"68% conf.","part":"l","z":75,"a":1.2},{"stat":"68% conf.","part":"l","z":80,"a":2.5},{"stat":"68% conf.","part":"l","z":84,"a":6},{"stat":"68% conf.","part":"l","z":88,"a":13},{"stat":"68% conf.","part":"l","z":91,"a":19.5},{"stat":"68% conf.","part":"l","z":94,"a":25.5},{"stat":"68% conf.","part":"l","z":96,"a":28},{"stat":"68% conf.","part":"l","z":98,"a":27},{"stat":"68% conf.","part":"l","z":100,"a":24},{"stat":"68% conf.","part":"l","z":103,"a":19.5},{"stat":"68% conf.","part":"l","z":106,"a":15.5},{"stat":"68% conf.","part":"l","z":108,"a":14},{"stat":"68% conf.","part":"l","z":112,"a":12},{"stat":"68% conf.","part":"l","z":116,"a":10.5},{"stat":"68% conf.","part":"l","z":120,"a":8.5},{"stat":"68% conf.","part":"l","z":124,"a":5.5},{"stat":"68% conf.","part":"l","z":128,"a":3},{"stat":"68% conf.","part":"l","z":132,"a":1.6},{"stat":"68% conf.","part":"l","z":136,"a":0.8},{"stat":"68% conf.","part":"l","z":140,"a":0.5},{"stat":"68% conf.","part":"l","z":145,"a":0.3},{"stat":"68% conf.","part":"l","z":150,"a":0.2},{"stat":"68% conf.","part":"l","z":160,"a":0.1},{"stat":"68% conf.","part":"l","z":168,"a":0}
 ]
},
"bounds": "full",
"spacing": 22,
"resolve": {"scale": {"x": "independent", "y": "independent", "color": "independent", "strokeDash": "independent"}, "legend": {"color": "independent", "strokeDash": "independent"}},
"hconcat": [
 {
 "vconcat": [
  {
  "width": 289, "height": 347,
  "resolve": {"axis": {"x": "independent", "y": "independent"}},
  "layer": [
   {"data": {"name": "nr"}, "mark": {"type": "line", "strokeWidth": 1.5, "clip": true},
    "encoding": {
     "x": {"field": "q", "type": "quantitative", "scale": {"domain": [0, 0.231], "nice": false, "zero": false},
       "axis": {"orient": "bottom", "labels": false, "title": null, "values": [0,0.025,0.05,0.075,0.1,0.125,0.15,0.175,0.2,0.225], "tickSize": {"condition": {"test": "abs(datum.value*20-round(datum.value*20))<0.001", "value": -8}, "value": -4}}},
     "y": {"field": "dn", "type": "quantitative", "scale": {"type": "log", "domain": [0.000043, 35], "nice": false},
       "axis": {"orient": "left", "title": "neutron reflectivity, R/RF", "titlePadding": 4,
        "values": [0.00005,0.00006,0.00007,0.00008,0.00009,0.0001,0.0002,0.0003,0.0004,0.0005,0.0006,0.0007,0.0008,0.0009,0.001,0.002,0.003,0.004,0.005,0.006,0.007,0.008,0.009,0.01,0.02,0.03,0.04,0.05,0.06,0.07,0.08,0.09,0.1,0.2,0.3,0.4,0.5,0.6,0.7,0.8,0.9,1,2,3,4,5,6,7,8,9,10,20,30],
        "labelExpr": "abs(log(datum.value)/LN10-round(log(datum.value)/LN10))>0.01 ? '' : (round(log(datum.value)/LN10)==1 ? '10' : round(log(datum.value)/LN10)==0 ? '1' : round(log(datum.value)/LN10)==-1 ? '10⁻¹' : round(log(datum.value)/LN10)==-2 ? '10⁻²' : round(log(datum.value)/LN10)==-3 ? '10⁻³' : '10⁻⁴')",
        "tickSize": {"condition": {"test": "abs(log(datum.value)/LN10-round(log(datum.value)/LN10))<0.01", "value": -8}, "value": -4}}},
     "color": {"datum": "neat bilayer", "scale": {"domain": ["neat bilayer", "bilayer + PTEN"], "range": ["#e8231f", "#111111"]},
       "legend": {"title": null, "orient": "none", "legendX": 83, "legendY": 199, "symbolType": "M-1.2,0H-0.35M0.35,0A0.35,0.35,0,1,1,-0.35,0A0.35,0.35,0,1,1,0.35,0M0.35,0A0.35,0.35,0,1,0,-0.35,0A0.35,0.35,0,1,0,0.35,0M0.35,0H1.2", "symbolSize": 289, "symbolFillColor": "white", "symbolStrokeWidth": 1.3}}
    }},
   {"data": {"name": "nr"}, "mark": {"type": "line", "strokeWidth": 1.5, "clip": true},
    "encoding": {"x": {"field": "q", "type": "quantitative", "scale": {"domain": [0, 0.231], "nice": false, "zero": false}, "axis": null},
     "y": {"field": "cn", "type": "quantitative", "scale": {"type": "log", "domain": [0.000043, 35], "nice": false}, "axis": null},
     "color": {"datum": "neat bilayer"}}},
   {"data": {"name": "nr"}, "mark": {"type": "line", "strokeWidth": 1.5, "clip": true},
    "encoding": {"x": {"field": "q", "type": "quantitative", "scale": {"domain": [0, 0.231], "nice": false, "zero": false}, "axis": null},
     "y": {"field": "h", "type": "quantitative", "scale": {"type": "log", "domain": [0.000043, 35], "nice": false}, "axis": null},
     "color": {"datum": "neat bilayer"}}},
   {"data": {"name": "nr"}, "mark": {"type": "line", "strokeWidth": 1.5, "clip": true},
    "encoding": {"x": {"field": "q", "type": "quantitative", "scale": {"domain": [0, 0.231], "nice": false, "zero": false},
       "axis": {"orient": "top", "labels": false, "title": null, "values": [0,0.025,0.05,0.075,0.1,0.125,0.15,0.175,0.2,0.225], "tickSize": {"condition": {"test": "abs(datum.value*20-round(datum.value*20))<0.001", "value": -8}, "value": -4}}},
     "y": {"field": "dp", "type": "quantitative", "scale": {"type": "log", "domain": [0.000043, 35], "nice": false},
       "axis": {"orient": "right", "labels": false, "title": null,
        "values": [0.00005,0.00006,0.00007,0.00008,0.00009,0.0001,0.0002,0.0003,0.0004,0.0005,0.0006,0.0007,0.0008,0.0009,0.001,0.002,0.003,0.004,0.005,0.006,0.007,0.008,0.009,0.01,0.02,0.03,0.04,0.05,0.06,0.07,0.08,0.09,0.1,0.2,0.3,0.4,0.5,0.6,0.7,0.8,0.9,1,2,3,4,5,6,7,8,9,10,20,30],
        "tickSize": {"condition": {"test": "abs(log(datum.value)/LN10-round(log(datum.value)/LN10))<0.01", "value": -8}, "value": -4}}},
     "color": {"datum": "bilayer + PTEN"}}},
   {"data": {"name": "nr"}, "mark": {"type": "line", "strokeWidth": 1.5, "clip": true},
    "encoding": {"x": {"field": "q", "type": "quantitative", "scale": {"domain": [0, 0.231], "nice": false, "zero": false}, "axis": null},
     "y": {"field": "cp", "type": "quantitative", "scale": {"type": "log", "domain": [0.000043, 35], "nice": false}, "axis": null},
     "color": {"datum": "bilayer + PTEN"}}},
   {"data": {"name": "eb"}, "mark": {"type": "errorbar", "ticks": true, "clip": true, "thickness": 1},
    "encoding": {"x": {"field": "q", "type": "quantitative", "scale": {"domain": [0, 0.231], "nice": false, "zero": false}, "axis": null},
     "y": {"field": "lo", "type": "quantitative", "scale": {"type": "log", "domain": [0.000043, 35], "nice": false}, "axis": null},
     "y2": {"field": "hi"},
     "color": {"field": "g", "type": "nominal", "legend": null}}},
   {"data": {"name": "nr"}, "mark": {"type": "point", "shape": "circle", "filled": false, "fill": "white", "size": 28, "strokeWidth": 1.1, "clip": true},
    "encoding": {"x": {"field": "q", "type": "quantitative", "scale": {"domain": [0, 0.231], "nice": false, "zero": false}, "axis": null},
     "y": {"field": "dn", "type": "quantitative", "scale": {"type": "log", "domain": [0.000043, 35], "nice": false}, "axis": null},
     "color": {"datum": "neat bilayer"}}},
   {"data": {"name": "nr"}, "mark": {"type": "point", "shape": "circle", "filled": false, "fill": "white", "size": 28, "strokeWidth": 1.1, "clip": true},
    "encoding": {"x": {"field": "q", "type": "quantitative", "scale": {"domain": [0, 0.231], "nice": false, "zero": false}, "axis": null},
     "y": {"field": "cn", "type": "quantitative", "scale": {"type": "log", "domain": [0.000043, 35], "nice": false}, "axis": null},
     "color": {"datum": "neat bilayer"}}},
   {"data": {"name": "nr"}, "mark": {"type": "point", "shape": "circle", "filled": false, "fill": "white", "size": 28, "strokeWidth": 1.1, "clip": true},
    "encoding": {"x": {"field": "q", "type": "quantitative", "scale": {"domain": [0, 0.231], "nice": false, "zero": false}, "axis": null},
     "y": {"field": "h", "type": "quantitative", "scale": {"type": "log", "domain": [0.000043, 35], "nice": false}, "axis": null},
     "color": {"datum": "neat bilayer"}}},
   {"data": {"name": "nr"}, "mark": {"type": "point", "shape": "circle", "filled": false, "fill": "white", "size": 28, "strokeWidth": 1.1, "clip": true},
    "encoding": {"x": {"field": "q", "type": "quantitative", "scale": {"domain": [0, 0.231], "nice": false, "zero": false}, "axis": null},
     "y": {"field": "dp", "type": "quantitative", "scale": {"type": "log", "domain": [0.000043, 35], "nice": false}, "axis": null},
     "color": {"datum": "bilayer + PTEN"}}},
   {"data": {"name": "nr"}, "mark": {"type": "point", "shape": "circle", "filled": false, "fill": "white", "size": 28, "strokeWidth": 1.1, "clip": true},
    "encoding": {"x": {"field": "q", "type": "quantitative", "scale": {"domain": [0, 0.231], "nice": false, "zero": false}, "axis": null},
     "y": {"field": "cp", "type": "quantitative", "scale": {"type": "log", "domain": [0.000043, 35], "nice": false}, "axis": null},
     "color": {"datum": "bilayer + PTEN"}}},
   {"data": {"name": "eb"}, "mark": {"type": "point", "shape": "circle", "filled": false, "fill": "white", "size": 28, "strokeWidth": 1.1, "clip": true},
    "encoding": {"x": {"field": "q", "type": "quantitative", "scale": {"domain": [0, 0.231], "nice": false, "zero": false}, "axis": null},
     "y": {"field": "r", "type": "quantitative", "scale": {"type": "log", "domain": [0.000043, 35], "nice": false}, "axis": null},
     "color": {"field": "g", "type": "nominal", "legend": null}}},
   {"data": {"values": [{"q": 0.094, "r": 13.7, "t": "D₂O buffer"}, {"q": 0.0207, "r": 0.0248, "t": "CM4"}, {"q": 0.0207, "r": 0.0117, "t": "(x 10⁻²)"}, {"q": 0.0487, "r": 0.000078, "t": "H₂O buffer (x 10⁻⁴)"}]},
    "mark": {"type": "text", "align": "left", "baseline": "middle", "fontSize": 16},
    "encoding": {"x": {"field": "q", "type": "quantitative", "scale": {"domain": [0, 0.231], "nice": false, "zero": false}, "axis": null},
     "y": {"field": "r", "type": "quantitative", "scale": {"type": "log", "domain": [0.000043, 35], "nice": false}, "axis": null},
     "text": {"field": "t"}}},
   {"data": {"values": [{"q": 0.2125, "r": 15, "t": "A"}]},
    "mark": {"type": "text", "align": "center", "baseline": "middle", "fontSize": 35, "fontWeight": "bold"},
    "encoding": {"x": {"field": "q", "type": "quantitative", "scale": {"domain": [0, 0.231], "nice": false, "zero": false}, "axis": null},
     "y": {"field": "r", "type": "quantitative", "scale": {"type": "log", "domain": [0.000043, 35], "nice": false}, "axis": null},
     "text": {"field": "t"}}}
  ]
  },
  {
  "width": 289, "height": 98,
  "resolve": {"axis": {"x": "independent", "y": "independent"}},
  "layer": [
   {"data": {"values": [{}]}, "mark": {"type": "rule", "color": "#555555", "strokeWidth": 1},
    "encoding": {
     "x": {"datum": 0, "type": "quantitative", "scale": {"domain": [0, 0.231], "nice": false, "zero": false},
       "axis": {"orient": "top", "labels": false, "title": null, "values": [0,0.025,0.05,0.075,0.1,0.125,0.15,0.175,0.2,0.225], "tickSize": {"condition": {"test": "abs(datum.value*20-round(datum.value*20))<0.001", "value": -8}, "value": -4}}},
     "x2": {"datum": 0.231},
     "y": {"datum": 0, "type": "quantitative", "scale": {"domain": [-13.75, 10.7], "nice": false, "zero": false},
       "axis": {"orient": "right", "labels": false, "title": null, "values": [-10, -5, 0, 5, 10], "tickSize": -8}}}},
   {"data": {"name": "res"}, "mark": {"type": "line", "strokeWidth": 1.4, "clip": true},
    "encoding": {
     "x": {"field": "q", "type": "quantitative", "scale": {"domain": [0, 0.231], "nice": false, "zero": false},
       "axis": {"orient": "bottom", "title": "momentum transfer, qz (Å⁻¹)", "values": [0,0.025,0.05,0.075,0.1,0.125,0.15,0.175,0.2,0.225],
        "labelExpr": "abs(datum.value*20-round(datum.value*20))<0.001 ? ''+datum.value : ''",
        "tickSize": {"condition": {"test": "abs(datum.value*20-round(datum.value*20))<0.001", "value": -8}, "value": -4}}},
     "y": {"field": "r", "type": "quantitative", "scale": {"domain": [-13.75, 10.7], "nice": false, "zero": false},
       "axis": {"orient": "left", "title": "residuals", "values": [-10, -5, 0, 5, 10], "labelExpr": "''+datum.value", "tickSize": -8}},
     "color": {"field": "s", "type": "nominal", "scale": {"domain": ["H₂O", "CM4"], "range": ["#36b336", "#2b3fe0"]},
       "legend": {"title": null, "orient": "none", "legendX": 203, "legendY": 60, "symbolType": "M-1.2,0H1.2", "symbolSize": 256, "labelFontSize": 15}}}}
  ]
  }
 ],
 "spacing": 0, "bounds": "flush",
 "resolve": {"scale": {"x": "independent", "y": "independent", "color": "independent"}, "legend": {"color": "independent"}}
 },
 {
 "vconcat": [
  {
  "width": 272, "height": 204,
  "resolve": {"axis": {"x": "independent", "y": "independent"}},
  "layer": [
   {"data": {"name": "sld"}, "transform": [{"filter": "datum.g == 'neat bilayer'"}], "mark": {"type": "line", "strokeWidth": 1.6, "clip": true},
    "encoding": {
     "x": {"field": "z", "type": "quantitative", "scale": {"domain": [-28.5, 340], "nice": false, "zero": false},
       "axis": {"orient": "bottom", "title": "distance from Si surface, z (Å)", "titlePadding": 2, "values": [-25,0,25,50,75,100,125,150,175,200,225,250,275,300,325],
        "labelExpr": "datum.value % 50 == 0 && datum.value >= 0 ? ''+datum.value : ''",
        "tickSize": {"condition": {"test": "datum.value % 50 == 0", "value": -8}, "value": -4}}},
     "y": {"field": "v", "type": "quantitative", "scale": {"domain": [-0.58, 10.1], "nice": false, "zero": false},
       "axis": {"orient": "left", "title": "nSLD, ρₙ (10⁻⁶ Å⁻²)", "titlePadding": 2, "labelFlush": true, "values": [0,1,2,3,4,5,6,7,8,9,10],
        "labelExpr": "datum.value % 2 == 0 ? ''+datum.value : ''",
        "tickSize": {"condition": {"test": "datum.value % 2 == 0", "value": -8}, "value": -4}}},
     "color": {"field": "g", "type": "nominal", "scale": {"domain": ["neat bilayer", "bilayer + PTEN"], "range": ["#ee2a24", "#111111"]},
       "legend": {"title": null, "orient": "none", "legendX": 45, "legendY": 158, "symbolType": "M-1.2,0H1.2", "symbolSize": 289}},
     "detail": {"field": "c"}}},
   {"data": {"name": "sld"}, "transform": [{"filter": "datum.g != 'neat bilayer'"}], "mark": {"type": "line", "strokeWidth": 1.6, "clip": true},
    "encoding": {
     "x": {"field": "z", "type": "quantitative", "scale": {"domain": [-28.5, 340], "nice": false, "zero": false},
       "axis": {"orient": "top", "labels": false, "title": null, "values": [-25,0,25,50,75,100,125,150,175,200,225,250,275,300,325],
        "tickSize": {"condition": {"test": "datum.value % 50 == 0", "value": -8}, "value": -4}}},
     "y": {"field": "v", "type": "quantitative", "scale": {"domain": [-0.58, 10.1], "nice": false, "zero": false},
       "axis": {"orient": "right", "labels": false, "title": null, "values": [0,1,2,3,4,5,6,7,8,9,10],
        "tickSize": {"condition": {"test": "datum.value % 2 == 0", "value": -8}, "value": -4}}},
     "color": {"field": "g", "type": "nominal"},
     "detail": {"field": "c"}}},
   {"data": {"values": [{"z": 257, "v": 8.3, "z2": 266, "v2": 5.6}, {"z": 260, "v": 8.3, "z2": 269, "v2": 4.2}, {"z": 262, "v": 1.5, "z2": 246, "v2": 0.4}]},
    "mark": {"type": "rule", "color": "#222222", "strokeWidth": 1},
    "encoding": {"x": {"field": "z", "type": "quantitative", "scale": {"domain": [-28.5, 340], "nice": false, "zero": false}, "axis": null},
     "y": {"field": "v", "type": "quantitative", "scale": {"domain": [-0.58, 10.1], "nice": false, "zero": false}, "axis": null},
     "x2": {"field": "z2"}, "y2": {"field": "v2"}}},
   {"data": {"values": [{"z": -8, "v": 9.48, "t": "permalloy"}, {"z": -12, "v": 4.35, "t": "SiOₓ"}, {"z": -12, "v": 2.1, "t": "Si"}, {"z": 137, "v": 5.03, "t": "Au"}, {"z": 243, "v": 8.7, "t": "protein"}, {"z": 247, "v": 2.05, "t": "head-"}]},
    "mark": {"type": "text", "align": "left", "baseline": "middle", "fontSize": 15},
    "encoding": {"x": {"field": "z", "type": "quantitative", "scale": {"domain": [-28.5, 340], "nice": false, "zero": false}, "axis": null},
     "y": {"field": "v", "type": "quantitative", "scale": {"domain": [-0.58, 10.1], "nice": false, "zero": false}, "axis": null},
     "text": {"field": "t"}}},
   {"data": {"values": [{"z": 321, "v": 6.86, "t": "D₂O"}, {"z": 327, "v": 4.76, "t": "CM4"}, {"z": 327, "v": -0.05, "t": "H₂O"}, {"z": 338, "v": 1.36, "t": "groups"}]},
    "mark": {"type": "text", "align": "right", "baseline": "middle", "fontSize": 15},
    "encoding": {"x": {"field": "z", "type": "quantitative", "scale": {"domain": [-28.5, 340], "nice": false, "zero": false}, "axis": null},
     "y": {"field": "v", "type": "quantitative", "scale": {"domain": [-0.58, 10.1], "nice": false, "zero": false}, "axis": null},
     "text": {"field": "t"}}},
   {"data": {"values": [{"z": 213, "v": 5.1, "t": "tether"}, {"z": 231, "v": 5.35, "t": "hydrocarbon chains"}]},
    "mark": {"type": "text", "align": "center", "baseline": "middle", "fontSize": 13, "angle": 270},
    "encoding": {"x": {"field": "z", "type": "quantitative", "scale": {"domain": [-28.5, 340], "nice": false, "zero": false}, "axis": null},
     "y": {"field": "v", "type": "quantitative", "scale": {"domain": [-0.58, 10.1], "nice": false, "zero": false}, "axis": null},
     "text": {"field": "t"}}},
   {"data": {"values": [{"z": -8, "v": 0.5, "t": "B"}]},
    "mark": {"type": "text", "align": "center", "baseline": "middle", "fontSize": 35, "fontWeight": "bold"},
    "encoding": {"x": {"field": "z", "type": "quantitative", "scale": {"domain": [-28.5, 340], "nice": false, "zero": false}, "axis": null},
     "y": {"field": "v", "type": "quantitative", "scale": {"domain": [-0.58, 10.1], "nice": false, "zero": false}, "axis": null},
     "text": {"field": "t"}}}
  ]
  },
  {
  "width": 272, "height": 201,
  "resolve": {"scale": {"y": "independent"}, "axis": {"x": "independent", "y": "independent"}},
  "layer": [
   {"data": {"name": "blm"}, "mark": {"type": "line", "strokeWidth": 1.6, "clip": true},
    "encoding": {
     "x": {"field": "z", "type": "quantitative", "scale": {"domain": [-10.3, 176], "nice": false, "zero": false},
       "axis": {"orient": "bottom", "title": "distance from Au surface, z (Å)", "titlePadding": 2, "values": [0,20,40,60,80,100,120,140,160],
        "labelExpr": "datum.value % 40 == 0 ? ''+datum.value : ''",
        "tickSize": {"condition": {"test": "datum.value % 40 == 0", "value": -8}, "value": -4}}},
     "y": {"field": "a", "type": "quantitative", "scale": {"domain": [0, 69], "nice": false, "zero": false},
       "axis": {"orient": "left", "title": "cross-sectional area (Å²)", "titlePadding": 2, "values": [0,10,20,30,40,50,60], "tickSize": -8}},
     "color": {"field": "comp", "type": "nominal", "scale": {"domain": ["substrate", "tether", "hydrocarbons", "headgroups"], "range": ["#d8a23a", "#24a224", "#2c56d6", "#5cc3f2"]},
       "legend": {"title": "stBLM", "orient": "none", "legendX": 137, "legendY": 2, "symbolType": "M-1.2,0H1.2", "symbolSize": 144, "titlePadding": 0, "labelFontSize": 13, "titleFontSize": 15}},
     "detail": {"field": "part"}}},
   {"data": {"name": "pten"}, "mark": {"type": "line", "strokeWidth": 1.6, "color": "#ee2020", "clip": true},
    "encoding": {
     "x": {"field": "z", "type": "quantitative", "scale": {"domain": [-10.3, 176], "nice": false, "zero": false},
       "axis": {"orient": "top", "labels": false, "title": null, "values": [0,20,40,60,80,100,120,140,160],
        "tickSize": {"condition": {"test": "datum.value % 40 == 0", "value": -8}, "value": -4}}},
     "y": {"field": "a", "type": "quantitative", "scale": {"domain": [0, 69], "nice": false, "zero": false}, "axis": null},
     "strokeDash": {"field": "stat", "type": "nominal", "scale": {"domain": ["median", "68% conf."], "range": [[1, 0], [2, 2]]},
       "legend": {"title": null, "orient": "none", "legendX": 181, "legendY": 92, "symbolType": "M-1.4,0H1.4", "symbolSize": 196, "symbolStrokeColor": "#ee2020", "labelOffset": 8}},
     "detail": {"field": "part"}}},
   {"data": {"values": [{"z": 0, "o": 0}, {"z": 0, "o": 1}]}, "mark": {"type": "point", "opacity": 0},
    "encoding": {
     "x": {"field": "z", "type": "quantitative", "scale": {"domain": [-10.3, 176], "nice": false, "zero": false}, "axis": null},
     "y": {"field": "o", "type": "quantitative", "scale": {"domain": [0, 1.003], "nice": false, "zero": false},
       "axis": {"orient": "right", "title": "component volume occupancy", "titlePadding": 3, "values": [0, 0.2, 0.4, 0.6, 0.8, 1], "labelExpr": "''+datum.value", "tickSize": -8}}}},
   {"data": {"values": [{"z": 82.4, "a": 40.6, "t": "PTEN (spline fit)"}]},
    "mark": {"type": "text", "align": "left", "baseline": "middle", "fontSize": 15},
    "encoding": {"x": {"field": "z", "type": "quantitative", "scale": {"domain": [-10.3, 176], "nice": false, "zero": false}, "axis": null},
     "y": {"field": "a", "type": "quantitative", "scale": {"domain": [0, 69], "nice": false, "zero": false}, "axis": null},
     "text": {"field": "t"}}},
   {"data": {"values": [{"z": 3.4, "a": 60.2, "t": "C"}]},
    "mark": {"type": "text", "align": "center", "baseline": "middle", "fontSize": 35, "fontWeight": "bold"},
    "encoding": {"x": {"field": "z", "type": "quantitative", "scale": {"domain": [-10.3, 176], "nice": false, "zero": false}, "axis": null},
     "y": {"field": "a", "type": "quantitative", "scale": {"domain": [0, 69], "nice": false, "zero": false}, "axis": null},
     "text": {"field": "t"}}}
  ]
  }
 ],
 "spacing": 37, "bounds": "flush",
 "resolve": {"scale": {"x": "independent", "y": "independent", "color": "independent", "strokeDash": "independent"}, "legend": {"color": "independent", "strokeDash": "independent"}}
 }
]
}
